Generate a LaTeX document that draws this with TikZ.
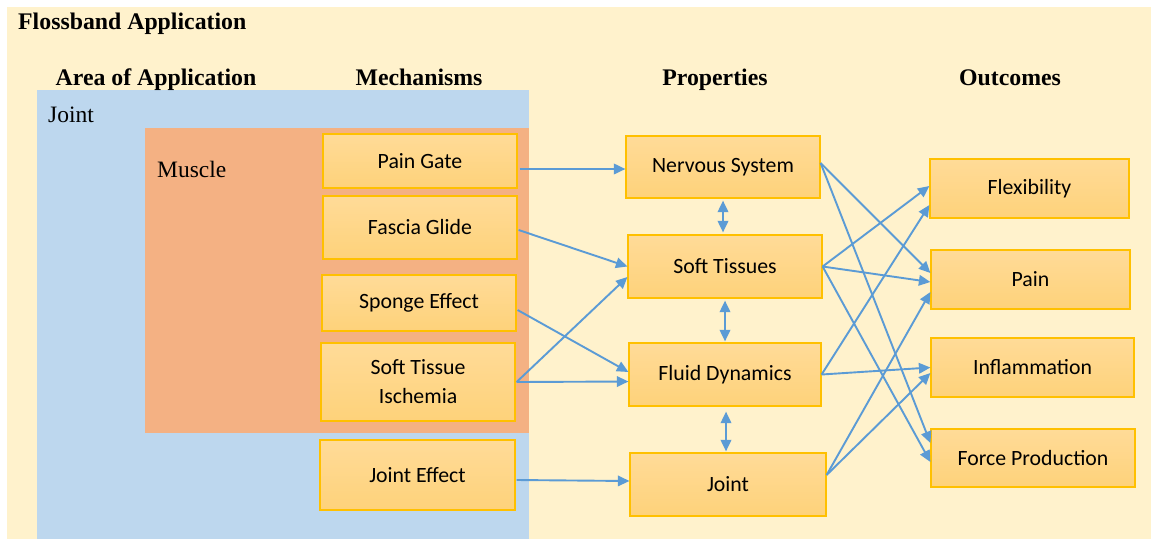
\documentclass[tikz,border=0pt]{standalone}
\usepackage{fontspec}
\setmainfont{Liberation Serif}
\newfontfamily\boxfont{Carlito}
\usetikzlibrary{arrows.meta,calc}
\definecolor{cream}{RGB}{255,242,204}
\definecolor{jointblue}{RGB}{189,215,238}
\definecolor{muscleorange}{RGB}{244,177,131}
\definecolor{boxtop}{RGB}{255,219,152}
\definecolor{boxbot}{RGB}{254,210,122}
\definecolor{boxline}{RGB}{255,192,0}
\definecolor{arrowblue}{RGB}{91,155,213}
\tikzset{
  itembox/.style={draw=boxline, line width=1.2pt, top color=boxtop, bottom color=boxbot,
    inner sep=0pt, align=center, font=\boxfont\fontsize{21.8}{29}\selectfont},
  heading/.style={font=\bfseries\fontsize{23.8}{28}\selectfont, inner sep=0pt, anchor=base},
  arealabel/.style={font=\fontsize{23.5}{28}\selectfont, inner sep=0pt, anchor=base west},
  conn/.style={draw=arrowblue, line width=1.9pt, -{Triangle[length=11.5pt,width=10.5pt]}},
  biconn/.style={draw=arrowblue, line width=1.9pt, {Triangle[length=11.5pt,width=10.5pt]}-{Triangle[length=11.5pt,width=10.5pt]}}
}
\begin{document}
\begin{tikzpicture}[x=1pt,y=-1pt]
\useasboundingbox (0,0) rectangle (1151,539);
% background regions
\fill[cream] (7,7) rectangle (1151,539);
\fill[jointblue] (37,90) rectangle (529,539);
\fill[muscleorange] (145,128) rectangle (529,433);
% headings
\node[heading, anchor=base west] (title) at (18,29) {Flossband Application};
\node[heading] (h1) at (156,85) {Area of Application};
\node[heading] (h2) at (419,85) {Mechanisms};
\node[heading] (h3) at (715,85) {Properties};
\node[heading] (h4) at (1010,85) {Outcomes};
\node[arealabel] (lj) at (48,122) {Joint};
\node[arealabel] (lm) at (157,177) {Muscle};
% mechanisms
\node[itembox, minimum width=194pt, minimum height=54pt] (pg) at (420,161) {Pain Gate};
\node[itembox, minimum width=194pt, minimum height=63pt] (fg) at (420,227.5) {Fascia Glide};
\node[itembox, minimum width=194pt, minimum height=56pt] (se) at (419,303) {Sponge Effect};
\node[itembox, minimum width=194pt, minimum height=78pt] (sti) at (418,382) {Soft Tissue\\Ischemia};
\node[itembox, minimum width=195pt, minimum height=70pt] (je) at (417.5,475) {Joint Effect};
% properties
\node[itembox, minimum width=194pt, minimum height=62pt] (ns) at (723,167) {Nervous System};
\node[itembox, minimum width=194pt, minimum height=63pt] (st) at (725,266.5) {Soft Tissues};
\node[itembox, minimum width=192pt, minimum height=63pt] (fd) at (725,374.5) {Fluid Dynamics};
\node[itembox, minimum width=196pt, minimum height=63pt] (jt) at (728,484.5) {Joint};
% outcomes
\node[itembox, minimum width=199pt, minimum height=59pt] (fl) at (1029.5,188.5) {Flexibility};
\node[itembox, minimum width=199pt, minimum height=59pt] (pa) at (1030.5,279.5) {Pain};
\node[itembox, minimum width=203pt, minimum height=59pt] (inf) at (1032.5,367.5) {Inflammation};
\node[itembox, minimum width=204pt, minimum height=58pt] (fp) at (1033,458) {Force Production};
% mechanisms -> properties
\draw[conn] ($(pg.east)+(2,8)$) -- ($(ns.west)+(0,2)$);
\draw[conn] ($(fg.east)+(1,2.5)$) -- (st.west);
\draw[conn] ($(se.east)+(1,7)$) -- ($(fd.west)+(0,-2.5)$);
\draw[conn] ($(sti.east)+(1,0)$) -- ($(st.west)+(0,10.5)$);
\draw[conn] ($(sti.east)+(1,0)$) -- ($(fd.west)+(0,7)$);
\draw[conn] ($(je.east)+(1,5)$) -- ($(jt.west)+(0,-3.5)$);
% properties vertical
\draw[biconn] ($(ns.south)+(0,2)$) -- ($(ns.south |- st.north)+(0,-2)$);
\draw[biconn] ($(st.south)+(0,2)$) -- ($(st.south |- fd.north)+(0,-1)$);
\draw[biconn] ($(fd.south)+(1,5)$) -- ($(fd.south |- jt.north)+(1,-1)$);
% properties -> outcomes
\draw[conn] ($(ns.east)+(0,-4)$) -- ($(pa.west)+(0,-6.5)$);
\draw[conn] ($(ns.east)+(0,-4)$) -- ($(fp.west)+(0,-15)$);
\draw[conn] (st.east) -- ($(fl.west)+(0,-2.5)$);
\draw[conn] (st.east) -- ($(pa.west)+(0,2.5)$);
\draw[conn] (st.east) -- ($(fp.west)+(0,4)$);
\draw[conn] (fd.east) -- ($(fl.west)+(0,16.5)$);
\draw[conn] (fd.east) -- (inf.west);
\draw[conn] ($(jt.east)+(0,-9.5)$) -- ($(pa.west)+(0,12.5)$);
\draw[conn] ($(jt.east)+(0,-9.5)$) -- ($(inf.west)+(0,5.5)$);
\end{tikzpicture}
\end{document}
